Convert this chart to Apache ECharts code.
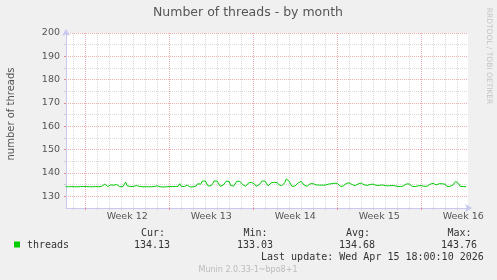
<!DOCTYPE html>
<html><head><meta charset="utf-8">
<script src="https://cdn.jsdelivr.net/npm/echarts@6/dist/echarts.min.js"></script>
<style>html,body{margin:0;padding:0;background:#f0f0f0}#c{width:497px;height:280px}</style>
</head><body><div id="c"></div>
<script>
// x is in days since Fri 13 Mar 2026 00:00; samples every 3 hours
const startDay = 0.375;        // first sample: day 0, 09:00
const stepDays = 0.125;        // 3 h
// threads, one row per day (00,03,06,09,12,15,18,21 h)
const threads = [
  134.2,134.2,134.1,134.2,134.2,                         // day 0 (from 09h)
  134.2,134.1,134.2,134.1,134.5,134.2,134.1,134.2,       // day 1
  134.1,134.2,134.2,134.1,134.2,134.1,134.2,134.2,       // day 2
  134.2,134.1,134.2,134.3,134.2,135.2,134.4,134.2,       // day 3
  134.3,134.9,134.3,134.8,134.4,135.0,134.3,134.2,       // day 4
  134.2,134.1,134.3,136.1,134.5,134.3,134.2,134.6,       // day 5
  134.2,134.3,134.6,135.2,134.3,134.2,134.1,134.2,       // day 6
  134.1,134.2,134.1,134.3,134.1,134.0,134.2,134.1,       // day 7
  134.5,134.2,134.1,134.2,134.0,134.2,134.1,134.2,       // day 8
  134.2,134.1,134.2,134.3,134.2,134.1,134.3,135.4,       // day 9
  134.3,134.1,134.2,134.3,134.8,134.2,134.0,134.1,       // day 10
  134.1,134.2,134.4,135.4,134.9,135.2,136.5,136.3,       // day 11
  136.6,135.8,134.4,134.5,134.6,135.5,136.6,136.4,       // day 12
  136.5,135.4,134.3,134.2,134.8,135.6,136.5,136.5,       // day 13
  136.4,134.6,134.2,134.4,135.2,136.4,136.6,136.5,       // day 14
  136.5,135.0,134.2,134.3,134.6,135.8,136.1,136.0,       // day 15
  136.0,135.2,134.3,134.4,135.0,135.8,136.6,136.6,       // day 16
  136.5,135.4,134.5,134.6,135.8,136.0,136.0,135.9,       // day 17
  135.9,135.0,134.6,134.5,135.2,135.8,137.5,136.8,       // day 18
  136.4,135.2,134.2,134.0,134.5,135.0,135.8,136.4,       // day 19
  136.4,136.2,134.8,134.2,134.3,134.9,135.4,135.4,       // day 20
  135.4,135.3,134.9,134.8,134.8,134.8,134.8,134.8,       // day 21
  134.8,134.8,135.2,135.3,135.4,135.4,135.6,135.7,       // day 22
  135.6,135.2,134.3,134.4,134.4,134.8,135.5,135.8,       // day 23
  135.8,135.4,135.0,134.9,134.6,134.8,135.3,135.8,       // day 24
  135.7,135.2,134.9,134.8,134.7,134.9,135.1,135.3,       // day 25
  135.2,134.9,134.7,134.6,134.7,134.9,134.9,134.7,       // day 26
  134.6,134.6,134.5,134.6,134.6,134.5,134.6,134.3,       // day 27
  134.3,134.2,134.2,134.3,134.4,134.6,135.3,135.4,       // day 28
  135.3,134.8,134.3,134.2,134.2,134.3,134.5,134.6,       // day 29
  134.6,134.4,134.3,134.2,134.3,134.6,135.2,135.7,       // day 30
  135.6,134.9,134.9,135.2,135.4,135.3,135.4,135.4,       // day 31
  135.2,134.3,134.2,134.2,134.3,134.8,135.6,136.4,       // day 32
  136.6,135.4,134.3,134.2,134.2,134.1,134.13             // day 33 (to 18h)
];
const xMin = 0.4, xMax = 33.9;
const yMin = 125, yMax = 200;
const dayLines = [1,3,4,5,6,7,8,10,11,12,13,14,15,17,18,19,20,21,22,24,25,26,27,28,29,31,32,33];
const weekLines = [2,9,16,23,30];
const weekLabels = ['Week 12','Week 13','Week 14','Week 15','Week 16'];
const weekLabelPos = [5.5,12.5,19.5,26.5,33.5];
const yMajor = [130,140,150,160,170,180,190,200];
const yMinor = [135,145,155,165,175,185,195];
const legendName = 'threads';
const stats = {cur:'134.13', min:'133.03', avg:'134.68', max:'143.76'};
const lastUpdate = 'Last update: Wed Apr 15 18:00:10 2026';
const titleText = 'Number of threads - by month';
const yName = 'number of threads';
const footer = 'Munin 2.0.33-1~bpo8+1';
const sideText = 'RRDTOOL / TOBI OETIKER';

const seriesData = threads.map((v,i)=>[startDay + i*stepDays, v]);
const SANS = 'DejaVu Sans', MONO = 'DejaVu Sans Mono';
const txt = '#555';
const axisBlue = '#c8c8f0';
const gray = '#dadada', red = '#eeb0b0';

const chart = echarts.init(document.getElementById('c'), null, {renderer:'canvas'});
chart.setOption({
  animation:false,
  backgroundColor:'#f0f0f0',
  grid:{left:66, top:33, width:402, height:175, show:true, backgroundColor:'#fff', borderWidth:0},
  xAxis:[
    {type:'value', min:xMin, max:xMax, position:'bottom',
     axisLine:{show:true, lineStyle:{color:axisBlue, width:1}, symbol:['none','arrow'], symbolSize:[6,7], symbolOffset:[0,4]},
     axisTick:{show:true, customValues:dayLines, length:2, inside:false, lineStyle:{color:'#ccc'}},
     axisLabel:{show:false},
     splitLine:{show:true, lineStyle:{color:gray, type:[1,1], width:1}}},
    {type:'value', min:xMin, max:xMax, position:'bottom',
     axisLine:{show:false},
     axisTick:{show:true, customValues:weekLines, length:2, lineStyle:{color:'#e88'}},
     axisLabel:{show:true, customValues:weekLabelPos, color:txt, fontFamily:SANS, fontSize:9.5, margin:4,
       formatter:(v)=>{const i=weekLabelPos.findIndex(p=>Math.abs(p-v)<1e-6); return i>=0?weekLabels[i]:'';}},
     splitLine:{show:true, lineStyle:{color:red, type:[1,1], width:1}}}
  ],
  yAxis:[
    {type:'value', min:yMin, max:yMax, position:'left',
     axisLine:{show:true, lineStyle:{color:axisBlue, width:1}, symbol:['none','arrow'], symbolSize:[6,7], symbolOffset:[0,4]},
     axisTick:{show:true, customValues:yMajor, length:2, lineStyle:{color:'#e88'}},
     axisLabel:{show:true, customValues:yMajor, color:txt, fontFamily:SANS, fontSize:9.5, margin:6},
     splitLine:{show:true, lineStyle:{color:red, type:[1,1], width:1}}},
    {type:'value', min:yMin, max:yMax, position:'left',
     axisLine:{show:false},
     axisTick:{show:true, customValues:yMinor, length:2, lineStyle:{color:'#ccc'}},
     axisLabel:{show:false},
     splitLine:{show:true, lineStyle:{color:gray, type:[1,1], width:1}}}
  ],
  series:[{type:'line', name:legendName, xAxisIndex:0, yAxisIndex:0, data:seriesData,
    showSymbol:false, symbol:'none', lineStyle:{color:'#00cc00', width:1}, z:5}],
  graphic:[
    {type:'text', x:248, y:13, style:{text:titleText, textAlign:'center', textVerticalAlign:'middle', font:'12.5px "DejaVu Sans"', fill:txt}},
    {type:'text', x:11, y:114, rotation:Math.PI/2, style:{text:yName, textAlign:'center', textVerticalAlign:'middle', font:'10px "DejaVu Sans"', fill:txt}},
    {type:'text', x:489, y:56, rotation:-Math.PI/2, style:{text:sideText, textAlign:'center', textVerticalAlign:'middle', font:'7.5px "DejaVu Sans"', fill:'#c4c4c4'}},
    {type:'rect', shape:{x:14, y:241.5, width:6, height:6}, style:{fill:'#00cc00'}},
    {type:'text', x:27, y:245, style:{text:legendName, textVerticalAlign:'middle', font:'10px "DejaVu Sans Mono"', fill:'#333'}},
    {type:'text', x:141, y:233, style:{text:'Cur:', textVerticalAlign:'middle', font:'10px "DejaVu Sans Mono"', fill:'#333'}},
    {type:'text', x:134, y:245, style:{text:stats.cur, textVerticalAlign:'middle', font:'10px "DejaVu Sans Mono"', fill:'#333'}},
    {type:'text', x:243.5, y:233, style:{text:'Min:', textVerticalAlign:'middle', font:'10px "DejaVu Sans Mono"', fill:'#333'}},
    {type:'text', x:237, y:245, style:{text:stats.min, textVerticalAlign:'middle', font:'10px "DejaVu Sans Mono"', fill:'#333'}},
    {type:'text', x:346, y:233, style:{text:'Avg:', textVerticalAlign:'middle', font:'10px "DejaVu Sans Mono"', fill:'#333'}},
    {type:'text', x:339, y:245, style:{text:stats.avg, textVerticalAlign:'middle', font:'10px "DejaVu Sans Mono"', fill:'#333'}},
    {type:'text', x:447.5, y:233, style:{text:'Max:', textVerticalAlign:'middle', font:'10px "DejaVu Sans Mono"', fill:'#333'}},
    {type:'text', x:441, y:245, style:{text:stats.max, textVerticalAlign:'middle', font:'10px "DejaVu Sans Mono"', fill:'#333'}},
    {type:'text', x:261, y:257.5, style:{text:lastUpdate, textVerticalAlign:'middle', font:'10px "DejaVu Sans Mono"', fill:'#333'}},
    {type:'text', x:248, y:269.5, style:{text:footer, textAlign:'center', textVerticalAlign:'middle', font:'8px "DejaVu Sans"', fill:'#bbb'}}
  ]
});
</script></body></html>
